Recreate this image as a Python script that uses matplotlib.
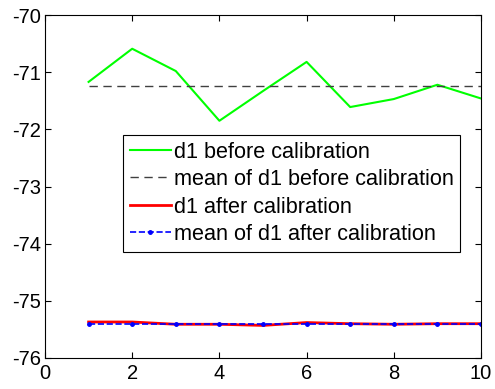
import matplotlib
matplotlib.use("Agg")
import matplotlib.pyplot as plt

plt.rcParams['font.family'] = ['Liberation Sans', 'DejaVu Sans']
plt.rcParams['axes.unicode_minus'] = False

x = [1, 2, 3, 4, 5, 6, 7, 8, 9, 10]
d1_before = [-71.17, -70.59, -70.98, -71.85, -71.33, -70.82, -71.61, -71.47, -71.22, -71.46]
d1_after = [-75.37, -75.37, -75.41, -75.41, -75.43, -75.38, -75.40, -75.41, -75.40, -75.40]
mean_before = sum(d1_before) / len(d1_before)
mean_after = -75.41

fig = plt.figure(figsize=(4.95, 3.89), dpi=100)
ax = fig.add_axes([0.0909, 0.0797, 0.8808, 0.8817])

ax.plot(x, d1_before, color='#00ff00', lw=1.5, label='d1 before calibration')
ax.plot(x, [mean_before] * len(x), color='#404040', lw=1, dashes=(6, 4),
        label='mean of d1 before calibration')
ax.plot(x, d1_after, color='#ff0000', lw=2, label='d1 after calibration')
ax.plot(x, [mean_after] * len(x), color='#0000ff', lw=1.2, ls='--', marker='.',
        markersize=5, label='mean of d1 after calibration')

ax.set_xlim(0, 10)
ax.set_ylim(-76, -70)
ax.set_xticks(range(0, 11, 2))
ax.set_yticks(range(-76, -69))
ax.tick_params(direction='in', top=True, right=True, labelsize=14.5, length=4)
ax.tick_params(axis='x', pad=4)
ax.tick_params(axis='y', pad=3)
for s in ax.spines.values():
    s.set_linewidth(0.8)

leg = ax.legend(loc='upper left', bbox_to_anchor=(0.179, 0.650), borderaxespad=0,
                fontsize=15.6, handlelength=1.9, handletextpad=0.15, labelspacing=0.3,
                borderpad=0.3, fancybox=False, framealpha=1, edgecolor='black')
leg.get_frame().set_linewidth(0.8)

plt.savefig("out.png", dpi=100)
